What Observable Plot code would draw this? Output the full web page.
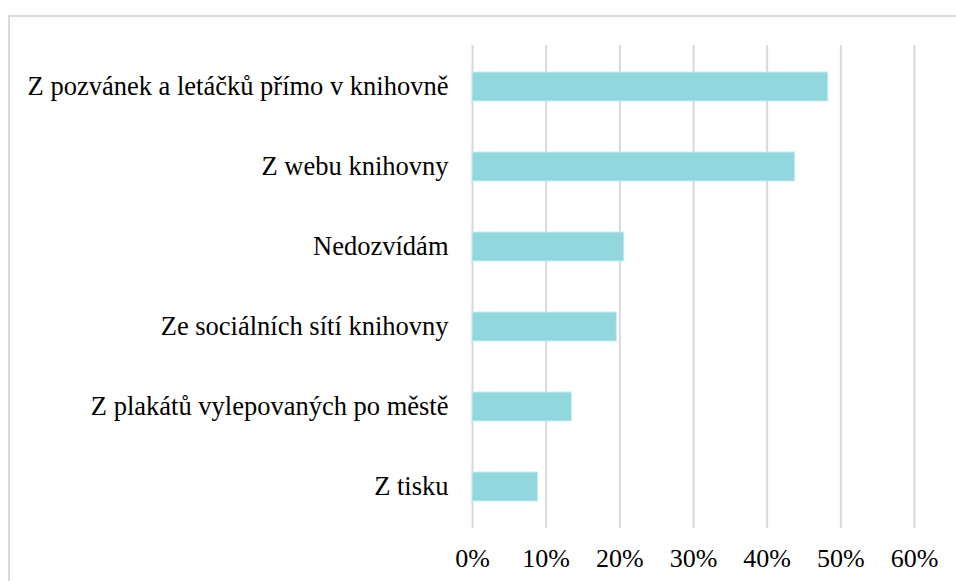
<!DOCTYPE html>
<html><head><meta charset="utf-8">
<script src="https://cdn.jsdelivr.net/npm/d3@7"></script>
<script src="https://cdn.jsdelivr.net/npm/@observablehq/plot@0.6"></script>
<style>
html,body{margin:0;padding:0;background:#fff;overflow:hidden;}
#frame{position:absolute;left:8px;top:15px;width:1200px;height:800px;border-left:2px solid #d9d9d9;border-top:2px solid #d9d9d9;}
#chart{position:absolute;left:0;top:0;}
</style></head>
<body>
<div id="frame"></div>
<div id="chart"></div>
<script>
const categories = [
  "Z pozvánek a letáčků přímo v knihovně",
  "Z webu knihovny",
  "Nedozvídám",
  "Ze sociálních sítí knihovny",
  "Z plakátů vylepovaných po městě",
  "Z tisku"
];
const values = [0.483, 0.438, 0.206, 0.196, 0.135, 0.089];
const xTicks = [0, 0.1, 0.2, 0.3, 0.4, 0.5, 0.6];

const data = categories.map((c, i) => ({category: c, value: values[i]}));
const pct = d => Math.round(d * 100) + "%";
const serif = "Times New Roman";

const chart = Plot.plot({
  width: 956,
  height: 581,
  marginLeft: 472,
  marginRight: 42,
  marginTop: 45,
  marginBottom: 53,
  style: {fontFamily: serif, fontSize: "26px", color: "#000", background: "transparent"},
  x: {domain: [0, 0.6], ticks: xTicks, tickFormat: pct, label: null},
  y: {domain: categories, paddingInner: 0.64, paddingOuter: 0.32, label: null},
  marks: [
    Plot.gridX(xTicks, {stroke: "#d9d9d9", strokeOpacity: 1, strokeWidth: 2}),
    Plot.barX(data, {x: "value", y: "category", fill: "#93d7de", stroke: "#c8ecef", strokeWidth: 1}),
    Plot.axisX(xTicks, {tickSize: 0, tickPadding: 20, fontSize: 26, fontFamily: serif, tickFormat: pct, label: null}),
    Plot.axisY({tickSize: 0, tickPadding: 24, fontSize: 26.5, fontFamily: serif, label: null})
  ]
});
document.getElementById("chart").appendChild(chart);
</script>
</body></html>
